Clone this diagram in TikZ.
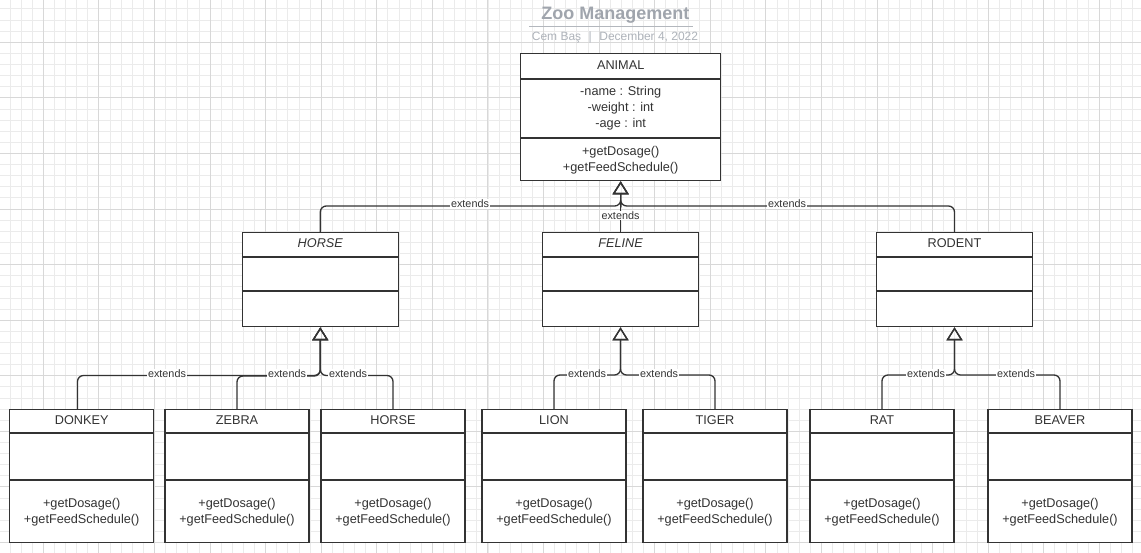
\documentclass[tikz,border=0pt]{standalone}
\usepackage{fontspec}
\setmainfont{Liberation Sans}
\usetikzlibrary{arrows.meta,calc}
\definecolor{ink}{HTML}{333333}
\definecolor{gridminor}{HTML}{EBEBEB}
\definecolor{gridmajor}{HTML}{D8D8D8}
\definecolor{titlegray}{HTML}{A0A5AD}
\definecolor{subgray}{HTML}{AEB3BA}

\newcommand{\umlbox}[9]{%
  \node[classbox, minimum width=#4pt, minimum height={(#5+#6+#7)*1pt}, anchor=north] (#1) at (#2,#3) {};
  \draw[divider] ([yshift=-#5pt]#1.north west) -- ([yshift=-#5pt]#1.north east);
  \draw[divider] ([yshift={-(#5+#6)*1pt}]#1.north west) -- ([yshift={-(#5+#6)*1pt}]#1.north east);
  \node[boxtext] (#1-title) at ([yshift={-(#5/2-1.3)*1pt}]#1.north) {#8};
  \node[boxtext] (#1-ops) at ([yshift={(#7/2)*1pt}]#1.south) {#9};
}

\begin{document}
\begin{tikzpicture}[x=1pt, y=-1pt,
  classbox/.style={rectangle, draw=ink, line width=1.3pt, fill=white, inner sep=0pt},
  divider/.style={draw=ink, line width=1.2pt},
  boxtext/.style={text=ink, align=center, inner sep=0pt, font=\fontsize{12.7}{15.8}\selectfont},
  ext/.style={draw=ink, line width=1.3pt, -{Triangle[open, length=13pt, width=16pt]}},
  lbl/.style={fill=white, text=ink, inner xsep=1pt, inner ysep=1pt, font=\fontsize{10.8}{12}\selectfont},
  minor/.style={draw=gridminor, line width=0.9pt},
  major/.style={draw=gridmajor, line width=1pt}]
\useasboundingbox (0,0) rectangle (1141,553);
\clip (0,0) rectangle (1141,553);
\fill[white] (0,0) rectangle (1141,553);
% grid
\foreach \i in {0,...,102} \draw[minor] ({10.0+11.116*\i},0) -- ++(0,553);
\foreach \j in {0,...,49} \draw[minor] (0,{8.95+11.116*\j}) -- ++(1141,0);
\foreach \i in {0,...,19} \draw[major] ({43.3+55.58*\i},0) -- ++(0,553);
\foreach \j in {0,...,9} \draw[major] (0,{42.3+55.58*\j}) -- ++(1141,0);

% title
\node[text=titlegray, font=\fontsize{18}{20}\selectfont\bfseries, inner sep=0pt] (title) at (615.3,15) {Zoo Management};
\draw[draw=titlegray!80, line width=1pt] (529,26.3) -- (693,26.3);
\node[text=subgray, font=\fontsize{12}{14}\selectfont, inner sep=0pt] (subtitle) at (615,37.3) {Cem Baş\hspace{7.5pt}|\hspace{7.5pt}December 4, 2022};

% classes
\umlbox{animal}{620.7}{53}{200}{26}{59}{42}{ANIMAL}{+getDosage()\\+getFeedSchedule()}
\node[boxtext] (animal-attrs) at ([yshift=-55pt]animal.north) {-name : String\\-weight : int\\-age : int};

\umlbox{horseA}{320.3}{232}{156}{25}{34}{35}{\itshape HORSE}{}
\umlbox{feline}{620.5}{232}{156}{25}{34}{35}{\itshape FELINE}{}
\umlbox{rodent}{954.5}{232}{156}{25}{34}{35}{RODENT}{}

\umlbox{donkey}{81.7}{409}{144}{24}{47}{62}{DONKEY}{+getDosage()\\+getFeedSchedule()}
\umlbox{zebra}{237}{409}{144}{24}{47}{62}{ZEBRA}{+getDosage()\\+getFeedSchedule()}
\umlbox{horseB}{393}{409}{144}{24}{47}{62}{HORSE}{+getDosage()\\+getFeedSchedule()}
\umlbox{lion}{554}{409}{144}{24}{47}{62}{LION}{+getDosage()\\+getFeedSchedule()}
\umlbox{tiger}{715}{409}{144}{24}{47}{62}{TIGER}{+getDosage()\\+getFeedSchedule()}
\umlbox{rat}{882}{409}{144}{24}{47}{62}{RAT}{+getDosage()\\+getFeedSchedule()}
\umlbox{beaver}{1060}{409}{144}{24}{47}{62}{BEAVER}{+getDosage()\\+getFeedSchedule()}

% connectors to ANIMAL
\draw[ext] (horseA.north) [rounded corners=6pt] -- ++(0,-26) -| ([yshift=-20pt]animal.south) [sharp corners] -- (animal.south);
\draw[ext] (rodent.north) [rounded corners=6pt] -- ++(0,-26) -| ([yshift=-20pt]animal.south) [sharp corners] -- (animal.south);
\draw[ext] (feline.north) -- (feline.north |- animal.south);

% connectors to HORSE
\draw[ext] ([xshift=-4.2pt]donkey.north) [rounded corners=6pt] -- ++(0,-33.5) -| ([yshift=-20pt]horseA.south) [sharp corners] -- (horseA.south);
\draw[ext] (zebra.north) [rounded corners=6pt] -- ++(0,-33) -| ([yshift=-20pt]horseA.south) [sharp corners] -- (horseA.south);
\draw[ext] (horseB.north) [rounded corners=6pt] -- ++(0,-33.5) -| ([yshift=-20pt]horseA.south) [sharp corners] -- (horseA.south);

% connectors to FELINE
\draw[ext] (lion.north) [rounded corners=6pt] -- ++(0,-34) -| ([yshift=-20pt]feline.south) [sharp corners] -- (feline.south);
\draw[ext] (tiger.north) [rounded corners=6pt] -- ++(0,-34) -| ([yshift=-20pt]feline.south) [sharp corners] -- (feline.south);

% connectors to RODENT
\draw[ext] (rat.north) [rounded corners=6pt] -- ++(0,-34) -| ([yshift=-20pt]rodent.south) [sharp corners] -- (rodent.south);
\draw[ext] (beaver.north) [rounded corners=6pt] -- ++(0,-34) -| ([yshift=-20pt]rodent.south) [sharp corners] -- (rodent.south);

% labels
\node[lbl] (l-horseA) at (470,204) {extends};
\node[lbl] (l-feline) at (620.5,215.5) {extends};
\node[lbl] (l-rodent) at (787,204) {extends};
\node[lbl] (l-donkey) at (167,373.8) {extends};
\node[lbl] (l-zebra) at (287,373.8) {extends};
\node[lbl] (l-horseB) at (348,373.8) {extends};
\node[lbl] (l-lion) at (587,373.8) {extends};
\node[lbl] (l-tiger) at (659,373.8) {extends};
\node[lbl] (l-rat) at (926,373.8) {extends};
\node[lbl] (l-beaver) at (1016,373.8) {extends};
\end{tikzpicture}
\end{document}
